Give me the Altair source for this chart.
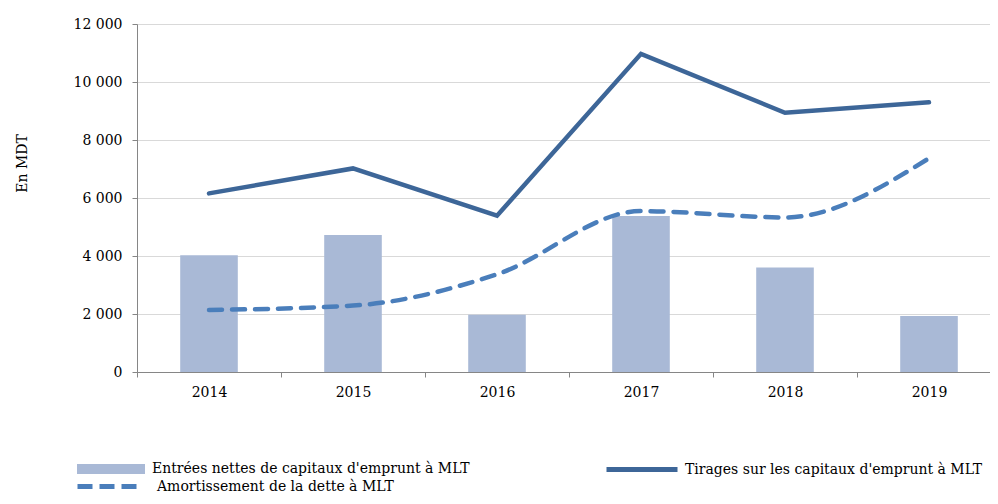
import altair as alt
import pandas as pd

years = ["2014", "2015", "2016", "2017", "2018", "2019"]
entrees = [4030, 4720, 1970, 5380, 3600, 1930]
tirages = [6160, 7020, 5390, 10970, 8940, 9300]
amort = [2140, 2290, 3370, 5550, 5330, 7370]

s_bar = "Entrées nettes de capitaux d'emprunt à MLT"
s_tir = "Tirages sur les capitaux d'emprunt à MLT"
s_amo = "Amortissement de la dette à MLT"

rows = []
for name, vals in [(s_bar, entrees), (s_tir, tirages), (s_amo, amort)]:
    for y, v in zip(years, vals):
        rows.append({"year": y, "value": v, "series": name})
df = pd.DataFrame(rows)

FONT = "DejaVu Serif"
FS = 14

x_enc = alt.X(
    "year:N",
    sort=years,
    scale=alt.Scale(paddingInner=0, paddingOuter=0, range=[0, 864]),
    axis=alt.Axis(
        title=None, labelAngle=0, tickBand="extent", domainColor="#868686",
        tickColor="#868686", tickSize=5, labelFont=FONT, labelFontSize=FS,
        labelColor="black", labelPadding=8, grid=False,
    ),
)
y_enc = alt.Y(
    "value:Q",
    scale=alt.Scale(domain=[0, 12000]),
    axis=alt.Axis(
        values=[0, 2000, 4000, 6000, 8000, 10000, 12000],
        labelExpr="replace(format(datum.value, ','), ',', ' ')",
        grid=True, gridColor="#D9D9D9", gridWidth=1.2,
        domainColor="#868686", tickColor="#868686", tickSize=5,
        labelFont=FONT, labelFontSize=FS, labelColor="black", labelPadding=10,
        title="En MDT", titleFont=FONT, titleFontSize=FS, titleFontWeight="normal",
        titleColor="black", titleX=-115, titleY=139, titleAlign="center",
        titleBaseline="middle", titleAngle=270,
    ),
)

base = alt.Chart(df)

bars = base.transform_filter(alt.datum.series == s_bar).mark_bar(
    width={"band": 0.4}
).encode(
    x=x_enc, y=y_enc,
    color=alt.Color("series:N", scale=alt.Scale(domain=[s_bar], range=["#A9B9D6"]),
                    legend=alt.Legend(title=None, orient="none", legendX=-60, legendY=411,
                                      symbolType="M-1,-0.15H1V0.15H-1Z", symbolSize=4624,
                                      symbolStrokeWidth=0, symbolOpacity=1,
                                      labelFont=FONT, labelFontSize=FS, labelColor="black",
                                      labelOffset=7, padding=0, labelLimit=500)),
)

line_tir = base.transform_filter(alt.datum.series == s_tir).mark_line(
    strokeWidth=4.5, strokeCap="round", strokeJoin="miter"
).encode(
    x=x_enc, y=y_enc,
    color=alt.Color("series:N", scale=alt.Scale(domain=[s_tir], range=["#3D6698"]),
                    legend=alt.Legend(title=None, orient="none", legendX=467, legendY=407.5,
                                      symbolType="stroke", symbolSize=5041,
                                      symbolStrokeWidth=5, symbolOpacity=1,
                                      labelFont=FONT, labelFontSize=FS, labelColor="black",
                                      labelOffset=5, padding=0, labelLimit=500)),
)

line_amo = base.transform_filter(alt.datum.series == s_amo).mark_line(
    strokeWidth=4.5, strokeCap="round", strokeDash=[13, 10], interpolate="monotone"
).encode(
    x=x_enc, y=y_enc,
    color=alt.Color("series:N", scale=alt.Scale(domain=[s_amo], range=["#4A7EBB"]),
                    legend=alt.Legend(title=None, orient="none", legendX=-62, legendY=429,
                                      symbolType="stroke", symbolSize=3844,
                                      symbolStrokeWidth=5, symbolDash=[15, 7],
                                      symbolOpacity=1,
                                      labelFont=FONT, labelFontSize=FS, labelColor="black",
                                      labelOffset=15, padding=0, labelLimit=500)),
)

chart = alt.layer(bars, line_tir, line_amo).resolve_scale(color="independent").properties(
    width=853, height=348,
    autosize=alt.AutoSizeParams(type="none"),
    padding={"left": 129, "top": 16, "right": 0, "bottom": 124},
).configure_view(stroke=None).configure(background="white")

chart.save("out.html", embed_options={"renderer": "svg", "actions": False})
